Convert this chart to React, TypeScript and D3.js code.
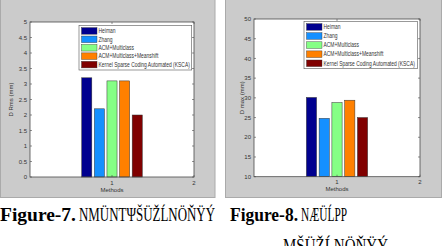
import * as d3 from "d3";

// methods in legend order
const methods = [
  "Heiman",
  "Zhang",
  "ACM+Multiclass",
  "ACM+Multiclass+Meanshift",
  "Kernel Sparse Coding Automated (KSCA)",
];
const rmsValues = [3.2, 2.2, 3.1, 3.1, 2.0];
const maxValues = [30.1, 24.8, 28.8, 29.4, 25.0];
const rmsTicks = [0, 0.5, 1, 1.5, 2, 2.5, 3, 3.5, 4, 4.5, 5];
const maxTicks = [10, 15, 20, 25, 30, 35, 40, 45, 50];
const xTicks = [1, 2];

const colors = ["#00008f", "#1590ff", "#85ff85", "#ff8000", "#800000"];

type PanelProps = {
  values: number[];
  ticks: number[];
  yLabel: string;
  labelX: number;
  frame: {x: number; y: number; w: number; h: number};
  plot: {left: number; top: number; right: number; bottom: number};
  legend: {x: number; y: number; w: number; h: number};
};

function Panel({values, ticks, yLabel, labelX, frame, plot, legend}: PanelProps) {
  const x = d3.scaleLinear().domain([0, 2]).range([plot.left, plot.right]);
  const y = d3
    .scaleLinear()
    .domain([ticks[0], ticks[ticks.length - 1]])
    .range([plot.bottom, plot.top]);

  // matlab grouped bar geometry
  const n = values.length;
  const groupW = Math.min(0.8, n / (n + 1.5));
  const step = groupW / n;
  const barW = step * 0.8;
  const offset = d3
    .scaleLinear()
    .domain([0, n - 1])
    .range([1 - groupW / 2 + step / 2, 1 + groupW / 2 - step / 2]);

  const rows = d3
    .scalePoint<number>()
    .domain(d3.range(n))
    .range([legend.y + 5.6, legend.y + legend.h - 5.4]);

  const axisCol = "#4a4a4a";
  const midY = (plot.top + plot.bottom) / 2;
  const tx = legend.x + 19.5;

  return (
    <g>
      <rect x={frame.x} y={frame.y} width={frame.w} height={frame.h} fill="#cbcbcb" stroke="#aaa" strokeWidth={1} />
      <rect x={plot.left} y={plot.top} width={plot.right - plot.left} height={plot.bottom - plot.top} fill="#fff" />

      {values.map((v, i) => (
        <rect
          key={i}
          x={x(offset(i) - barW / 2)}
          y={y(v)}
          width={x(barW) - x(0)}
          height={y(ticks[0]) - y(v)}
          fill={colors[i]}
          stroke="#333"
          strokeWidth={0.5}
        />
      ))}

      <rect
        x={plot.left}
        y={plot.top}
        width={plot.right - plot.left}
        height={plot.bottom - plot.top}
        fill="none"
        stroke={axisCol}
        strokeWidth={0.8}
      />

      {ticks.map((t) => (
        <g key={t}>
          <line x1={plot.left} x2={plot.left + 2} y1={y(t)} y2={y(t)} stroke={axisCol} strokeWidth={0.6} />
          <line x1={plot.right} x2={plot.right - 2} y1={y(t)} y2={y(t)} stroke={axisCol} strokeWidth={0.6} />
          <text x={plot.left - 3} y={y(t)} dy="0.35em" textAnchor="end" fontSize={6} fill="#333">
            {String(t)}
          </text>
        </g>
      ))}

      {xTicks.map((t) => (
        <g key={t}>
          <line x1={x(t)} x2={x(t)} y1={plot.bottom} y2={plot.bottom - 2} stroke={axisCol} strokeWidth={0.6} />
          <line x1={x(t)} x2={x(t)} y1={plot.top} y2={plot.top + 2} stroke={axisCol} strokeWidth={0.6} />
          <text x={x(t)} y={plot.bottom + 7.5} textAnchor="middle" fontSize={6} fill="#333">
            {String(t)}
          </text>
        </g>
      ))}

      <text x={x(1)} y={plot.bottom + 14.5} textAnchor="middle" fontSize={6} fill="#333">
        Methods
      </text>
      <text
        transform={`translate(${labelX},${midY}) rotate(-90)`}
        dy="0.35em"
        textAnchor="middle"
        fontSize={6}
        fill="#333"
      >
        {yLabel}
      </text>

      {/* legend */}
      <rect x={legend.x} y={legend.y} width={legend.w} height={legend.h} fill="#fff" stroke="#555" strokeWidth={0.6} />
      {methods.map((m, i) => (
        <g key={m}>
          <rect
            x={legend.x + 2.5}
            y={(rows(i) as number) - 3.3}
            width={15.5}
            height={6.6}
            fill={colors[i]}
            stroke="#333"
            strokeWidth={0.4}
          />
          <text
            transform={`translate(${tx},${rows(i)}) scale(0.76,1)`}
            dy="0.35em"
            fontSize={6.5}
            fill="#333"
          >
            {m}
          </text>
        </g>
      ))}
    </g>
  );
}

export default function App() {
  const serif = "'Liberation Serif', 'DejaVu Serif', serif";
  return (
    <svg
      width={444}
      height={246}
      viewBox="0 0 444 246"
      style={{position: "absolute", left: 0, top: 0, background: "#fff"}}
      fontFamily="Arial, 'Liberation Sans', sans-serif"
    >
      <Panel
        values={rmsValues}
        ticks={rmsTicks}
        yLabel="D Rms (mm)"
        labelX={11}
        frame={{x: 0.5, y: -1, w: 214.5, h: 198.5}}
        plot={{left: 30, top: 22, right: 194, bottom: 177}}
        legend={{x: 79, y: 25.3, w: 112.7, h: 44.7}}
      />
      <Panel
        values={maxValues}
        ticks={maxTicks}
        yLabel="D max (mm)"
        labelX={242}
        frame={{x: 225.5, y: -1, w: 216, h: 198.5}}
        plot={{left: 254, top: 19, right: 420, bottom: 176.7}}
        legend={{x: 304, y: 21.3, w: 113.3, h: 47.4}}
      />

      <text x={0} y={220.5} fontFamily={serif} fontWeight="bold" fontSize={19} fill="#000" textLength={76} lengthAdjust="spacingAndGlyphs">
        Figure-7.
      </text>
      <text x={79} y={220.5} fontFamily={serif} fontSize={19} fill="#000" textLength={136} lengthAdjust="spacingAndGlyphs">
        ΝΜÜΝΤΨŠÜŽĹΝÖŇŸÝ
      </text>
      <text x={230} y={220.5} fontFamily={serif} fontWeight="bold" fontSize={19} fill="#000" textLength={68} lengthAdjust="spacingAndGlyphs">
        Figure-8.
      </text>
      <text x={301} y={220.5} fontFamily={serif} fontSize={19} fill="#000" textLength={46} lengthAdjust="spacingAndGlyphs">
        ΝÆÜĹPP
      </text>
      <text x={283} y={251.5} fontFamily={serif} fontSize={19} fill="#000" textLength={105} lengthAdjust="spacingAndGlyphs">
        ΜŠÜŽĹΝÖŇŸÝ
      </text>
    </svg>
  );
}
